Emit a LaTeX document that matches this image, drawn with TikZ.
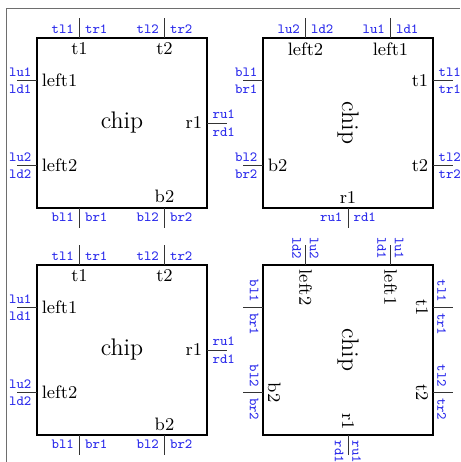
\documentclass[tikz,border=0pt]{standalone}
\usepackage{tikz}
\usepackage{graphicx}
\usetikzlibrary{calc}
\definecolor{pinblue}{RGB}{40, 40, 235}
\definecolor{framegray}{RGB}{110, 110, 110}

% inner label, skipped when empty
\newcommand{\innerlabel}[3]{%
  \if\relax\detokenize{#3}\relax\else
    \node[inlabel, anchor=#2] (#1-in) at (#1) {#3};
  \fi}

% pins: chip, fraction along side, outer label 1, outer label 2, inner label
\newcommand{\pintop}[5]{%
  \coordinate (#1-#3) at ($(#1.north west)!#2!(#1.north east)$);
  \draw[pin] (#1-#3) -- ++(0,20) coordinate (#1-#3-end);
  \node[pinlabel, anchor=south east] (#1-#3-a) at (#1-#3) {#3};
  \node[pinlabel, anchor=south west] (#1-#3-b) at (#1-#3) {#4};
  \innerlabel{#1-#3}{north}{#5}}
\newcommand{\pinleft}[5]{%
  \coordinate (#1-#3) at ($(#1.north west)!#2!(#1.south west)$);
  \draw[pin] (#1-#3) -- ++(-20,0) coordinate (#1-#3-end);
  \node[pinlabel, anchor=south east] (#1-#3-a) at (#1-#3) {#3};
  \node[pinlabel, anchor=north east] (#1-#3-b) at (#1-#3) {#4};
  \innerlabel{#1-#3}{west}{#5}}
\newcommand{\pinright}[5]{%
  \coordinate (#1-#3) at ($(#1.north east)!#2!(#1.south east)$);
  \draw[pin] (#1-#3) -- ++(20,0) coordinate (#1-#3-end);
  \node[pinlabel, anchor=south west] (#1-#3-a) at (#1-#3) {#3};
  \node[pinlabel, anchor=north west] (#1-#3-b) at (#1-#3) {#4};
  \innerlabel{#1-#3}{east}{#5}}
\newcommand{\pinbottom}[5]{%
  \coordinate (#1-#3) at ($(#1.south west)!#2!(#1.south east)$);
  \draw[pin] (#1-#3) -- ++(0,-20) coordinate (#1-#3-end);
  \node[pinlabel, anchor=north east] (#1-#3-a) at (#1-#3) {#3};
  \node[pinlabel, anchor=north west] (#1-#3-b) at (#1-#3) {#4};
  \innerlabel{#1-#3}{south}{#5}}

% the usual pin set of a chip
\newcommand{\chippins}[1]{%
  \pintop{#1}{.25}{tl1}{tr1}{t1}
  \pintop{#1}{.75}{tl2}{tr2}{t2}
  \pinleft{#1}{.25}{lu1}{ld1}{left1}
  \pinleft{#1}{.75}{lu2}{ld2}{left2}
  \pinright{#1}{.5}{ru1}{rd1}{r1}
  \pinbottom{#1}{.25}{bl1}{br1}{}
  \pinbottom{#1}{.75}{bl2}{br2}{b2}}

\begin{document}
\begin{tikzpicture}[
    x=1pt, y=1pt,
    chipbox/.style={draw, line width=2pt, minimum size=85pt, inner sep=0pt,
      outer sep=0pt, scale=2, font=\large},
    pin/.style={line width=0.8pt, black!80},
    pinlabel/.style={font=\scriptsize\ttfamily, text=pinblue, inner xsep=2.6pt,
      inner ysep=2pt, scale=2},
    inlabel/.style={font=\small, inner sep=2.2pt, scale=2}
]
    \useasboundingbox (0,0) rectangle (460,462);

    % --- Frame ---
    \coordinate (frame-bl) at (6,0);
    \coordinate (frame-tl) at (6,454);
    \coordinate (frame-tr) at (460,454);
    \draw[framegray, line width=0.8pt] (frame-bl) -- (frame-tl) -- (frame-tr);

    % --- Chip A: plain ---
    \node[chipbox] (chipA) at (122,339) {chip};
    \chippins{chipA}

    % --- Chip B: rotated pins, upright labels ---
    \node[chipbox] (chipB) at (348,339) {\rotatebox{-90}{chip}};
    \pintop{chipB}{.25}{lu2}{ld2}{left2}
    \pintop{chipB}{.75}{lu1}{ld1}{left1}
    \pinleft{chipB}{.25}{bl1}{br1}{}
    \pinleft{chipB}{.75}{bl2}{br2}{b2}
    \pinright{chipB}{.25}{tl1}{tr1}{t1}
    \pinright{chipB}{.75}{tl2}{tr2}{t2}
    \pinbottom{chipB}{.5}{ru1}{rd1}{r1}

    % --- Chip C: plain ---
    \node[chipbox] (chipC) at (122,112) {chip};
    \chippins{chipC}

    % --- Chip D: everything rotated ---
    \begin{scope}[rotate around={-90:(348,112)}, transform shape]
        \node[chipbox] (chipD) at (348,112) {chip};
        \chippins{chipD}
    \end{scope}

\end{tikzpicture}
\end{document}
